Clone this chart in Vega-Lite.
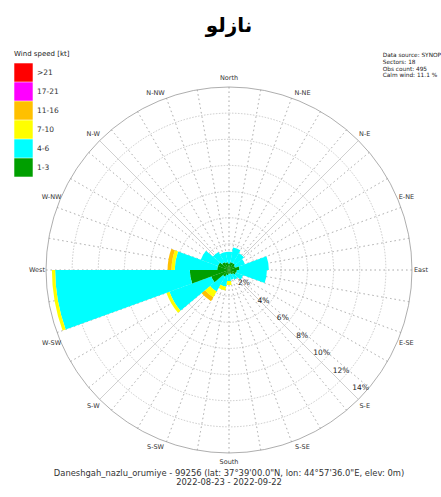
{
  "$schema": "https://vega.github.io/schema/vega-lite/v6.json",
  "width": 400,
  "height": 400,
  "autosize": {"type": "none"},
  "padding": {"left": 29, "top": 70, "right": 12, "bottom": 27},
  "background": "white",
  "title": {"text": "نازلو", "font": "DejaVu Sans", "fontSize": 20, "fontWeight": "bold", "color": "#000000", "anchor": "middle", "offset": 14},
  "config": {"view": {"stroke": null}, "font": "DejaVu Sans"},
  "datasets": {
    "wind": [
      {"dir": 0, "from": -10, "to": 10, "speed": "1-3", "rank": 1, "pct": 0.5},
      {"dir": 0, "from": -10, "to": 10, "speed": "4-6", "rank": 2, "pct": 0.9},
      {"dir": 20, "from": 10, "to": 30, "speed": "1-3", "rank": 1, "pct": 0.6},
      {"dir": 20, "from": 10, "to": 30, "speed": "4-6", "rank": 2, "pct": 1.15},
      {"dir": 40, "from": 30, "to": 50, "speed": "1-3", "rank": 1, "pct": 0.6},
      {"dir": 40, "from": 30, "to": 50, "speed": "4-6", "rank": 2, "pct": 0.9},
      {"dir": 60, "from": 50, "to": 70, "speed": "1-3", "rank": 1, "pct": 0.5},
      {"dir": 60, "from": 50, "to": 70, "speed": "4-6", "rank": 2, "pct": 0.8},
      {"dir": 80, "from": 70, "to": 90, "speed": "1-3", "rank": 1, "pct": 0.8},
      {"dir": 80, "from": 70, "to": 90, "speed": "4-6", "rank": 2, "pct": 2.25},
      {"dir": 100, "from": 90, "to": 110, "speed": "1-3", "rank": 1, "pct": 0.6},
      {"dir": 100, "from": 90, "to": 110, "speed": "4-6", "rank": 2, "pct": 2.3},
      {"dir": 120, "from": 110, "to": 130, "speed": "1-3", "rank": 1, "pct": 0.55},
      {"dir": 120, "from": 110, "to": 130, "speed": "4-6", "rank": 2, "pct": 0.6},
      {"dir": 140, "from": 130, "to": 150, "speed": "1-3", "rank": 1, "pct": 0.4},
      {"dir": 140, "from": 130, "to": 150, "speed": "4-6", "rank": 2, "pct": 0.45},
      {"dir": 160, "from": 150, "to": 170, "speed": "1-3", "rank": 1, "pct": 0.3},
      {"dir": 160, "from": 150, "to": 170, "speed": "4-6", "rank": 2, "pct": 0.45},
      {"dir": 180, "from": 170, "to": 190, "speed": "1-3", "rank": 1, "pct": 0.3},
      {"dir": 180, "from": 170, "to": 190, "speed": "4-6", "rank": 2, "pct": 0.55},
      {"dir": 180, "from": 170, "to": 190, "speed": "7-10", "rank": 3, "pct": 0.3},
      {"dir": 200, "from": 190, "to": 210, "speed": "1-3", "rank": 1, "pct": 0.4},
      {"dir": 200, "from": 190, "to": 210, "speed": "4-6", "rank": 2, "pct": 0.9},
      {"dir": 200, "from": 190, "to": 210, "speed": "7-10", "rank": 3, "pct": 0.3},
      {"dir": 220, "from": 210, "to": 230, "speed": "1-3", "rank": 1, "pct": 0.6},
      {"dir": 220, "from": 210, "to": 230, "speed": "4-6", "rank": 2, "pct": 1.3},
      {"dir": 220, "from": 210, "to": 230, "speed": "7-10", "rank": 3, "pct": 0.5},
      {"dir": 220, "from": 210, "to": 230, "speed": "11-16", "rank": 4, "pct": 0.35},
      {"dir": 240, "from": 230, "to": 250, "speed": "1-3", "rank": 1, "pct": 1.45},
      {"dir": 240, "from": 230, "to": 250, "speed": "4-6", "rank": 2, "pct": 3.4},
      {"dir": 240, "from": 230, "to": 250, "speed": "7-10", "rank": 3, "pct": 0.25},
      {"dir": 260, "from": 250, "to": 270, "speed": "1-3", "rank": 1, "pct": 3.0},
      {"dir": 260, "from": 250, "to": 270, "speed": "4-6", "rank": 2, "pct": 10.3},
      {"dir": 260, "from": 250, "to": 270, "speed": "7-10", "rank": 3, "pct": 0.25},
      {"dir": 280, "from": 270, "to": 290, "speed": "1-3", "rank": 1, "pct": 0.9},
      {"dir": 280, "from": 270, "to": 290, "speed": "4-6", "rank": 2, "pct": 3.25},
      {"dir": 280, "from": 270, "to": 290, "speed": "7-10", "rank": 3, "pct": 0.25},
      {"dir": 280, "from": 270, "to": 290, "speed": "11-16", "rank": 4, "pct": 0.3},
      {"dir": 300, "from": 290, "to": 310, "speed": "1-3", "rank": 1, "pct": 0.9},
      {"dir": 300, "from": 290, "to": 310, "speed": "4-6", "rank": 2, "pct": 1.4},
      {"dir": 320, "from": 310, "to": 330, "speed": "1-3", "rank": 1, "pct": 0.7},
      {"dir": 320, "from": 310, "to": 330, "speed": "4-6", "rank": 2, "pct": 0.9},
      {"dir": 340, "from": 330, "to": 350, "speed": "1-3", "rank": 1, "pct": 0.6},
      {"dir": 340, "from": 330, "to": 350, "speed": "4-6", "rank": 2, "pct": 0.8}
    ],
    "rings": [{"r": 2}, {"r": 4}, {"r": 6}, {"r": 8}, {"r": 10}, {"r": 12}],
    "ringLabels": [
      {"r": 2, "t": "2%"}, {"r": 4, "t": "4%"}, {"r": 6, "t": "6%"}, {"r": 8, "t": "8%"},
      {"r": 10, "t": "10%"}, {"r": 12, "t": "12%"}, {"r": 14, "t": "14%"}
    ],
    "spokes": [
      {"a": 0}, {"a": 10}, {"a": 20}, {"a": 30}, {"a": 40}, {"a": 50}, {"a": 60}, {"a": 70}, {"a": 80},
      {"a": 90}, {"a": 100}, {"a": 110}, {"a": 120}, {"a": 130}, {"a": 140}, {"a": 150}, {"a": 160}, {"a": 170},
      {"a": 180}, {"a": 190}, {"a": 200}, {"a": 210}, {"a": 220}, {"a": 230}, {"a": 240}, {"a": 250}, {"a": 260},
      {"a": 270}, {"a": 280}, {"a": 290}, {"a": 300}, {"a": 310}, {"a": 320}, {"a": 330}, {"a": 340}, {"a": 350}
    ],
    "diagonals": [{"a": 45}, {"a": 135}, {"a": 225}, {"a": 315}],
    "directions": [
      {"name": "North", "deg": 0}, {"name": "N-NE", "deg": 22.5}, {"name": "N-E", "deg": 45}, {"name": "E-NE", "deg": 67.5},
      {"name": "East", "deg": 90}, {"name": "E-SE", "deg": 112.5}, {"name": "S-E", "deg": 135}, {"name": "S-SE", "deg": 157.5},
      {"name": "South", "deg": 180}, {"name": "S-SW", "deg": 202.5}, {"name": "S-W", "deg": 225}, {"name": "W-SW", "deg": 247.5},
      {"name": "West", "deg": 270}, {"name": "W-NW", "deg": 292.5}, {"name": "N-W", "deg": 315}, {"name": "N-NW", "deg": 337.5}
    ]
  },
  "layer": [
    {
      "data": {"name": "rings"},
      "mark": {"type": "arc", "filled": false, "stroke": "#b4b4b4", "strokeWidth": 0.7, "strokeDash": [1.5, 1.5], "theta": 0, "theta2": 6.2832},
      "encoding": {
        "radius": {"field": "r", "type": "quantitative", "stack": null, "scale": {"type": "linear", "domain": [0, 14], "range": [0, 183], "nice": false, "zero": true}}
      }
    },
    {
      "data": {"name": "spokes"},
      "mark": {"type": "arc", "filled": false, "stroke": "#b4b4b4", "strokeWidth": 0.7, "strokeDash": [1.5, 3]},
      "encoding": {
        "theta": {"field": "a", "type": "quantitative", "stack": null, "scale": {"type": "linear", "domain": [0, 360], "range": [0, 6.283185307179586], "nice": false, "zero": true}},
        "theta2": {"field": "a"},
        "radius": {"datum": 14, "type": "quantitative"}
      }
    },
    {
      "data": {"name": "diagonals"},
      "mark": {"type": "arc", "filled": false, "stroke": "#bdbdbd", "strokeWidth": 0.45},
      "encoding": {
        "theta": {"field": "a", "type": "quantitative", "stack": null},
        "theta2": {"field": "a"},
        "radius": {"datum": 14, "type": "quantitative"}
      }
    },
    {
      "data": {"values": [{"r": 14}]},
      "mark": {"type": "arc", "filled": false, "stroke": "#999999", "strokeWidth": 0.8, "theta": 0, "theta2": 6.2832},
      "encoding": {
        "radius": {"field": "r", "type": "quantitative", "stack": null}
      }
    },
    {
      "data": {"name": "wind"},
      "mark": {"type": "arc"},
      "encoding": {
        "theta": {"field": "from", "type": "quantitative", "stack": null},
        "theta2": {"field": "to"},
        "radius": {"field": "pct", "type": "quantitative", "stack": true},
        "order": {"field": "rank", "type": "quantitative", "sort": "ascending"},
        "color": {
          "field": "speed", "type": "nominal",
          "scale": {"domain": [">21", "17-21", "11-16", "7-10", "4-6", "1-3"], "range": ["#ff0000", "#ff00ff", "#ffc000", "#ffff00", "#00ffff", "#009f00"]},
          "legend": {
            "title": "Wind speed [kt]", "orient": "none", "legendX": -15, "legendY": -20, "padding": 0,
            "symbolType": "square", "symbolSize": 340, "symbolStrokeWidth": 0, "symbolOpacity": 1, "rowPadding": 0,
            "labelFont": "DejaVu Sans", "labelFontSize": 7.5, "labelColor": "#333333", "labelOffset": 4,
            "titleFont": "DejaVu Sans", "titleFontSize": 7, "titleFontWeight": "normal", "titleColor": "#222222", "titlePadding": 6
          }
        }
      }
    },
    {
      "data": {"name": "ringLabels"},
      "mark": {"type": "text", "fontSize": 7.5, "color": "#222222", "radiusOffset": -6, "align": "center", "baseline": "middle"},
      "encoding": {
        "theta": {"datum": 132, "type": "quantitative"},
        "radius": {"field": "r", "type": "quantitative", "stack": null},
        "text": {"field": "t"}
      }
    },
    {
      "data": {"name": "directions"},
      "mark": {"type": "text", "fontSize": 6.5, "color": "#333333", "radiusOffset": 9, "align": "center", "baseline": "middle"},
      "encoding": {
        "theta": {"field": "deg", "type": "quantitative", "stack": null},
        "radius": {"datum": 14, "type": "quantitative"},
        "text": {"field": "name"}
      }
    },
    {
      "data": {"values": [{}]},
      "mark": {"type": "text", "fontSize": 5.8, "color": "#222222", "align": "left", "baseline": "top", "lineHeight": 6.8,
        "text": ["Data source: SYNOP", "Sectors: 18", "Obs count: 495", "Calm wind: 11.1 %"]},
      "encoding": {
        "theta": {"datum": 35.2, "type": "quantitative"},
        "radius": {"datum": 20.4, "type": "quantitative"}
      }
    },
    {
      "data": {"values": [{}]},
      "mark": {"type": "text", "fontSize": 8.4, "color": "#333333", "align": "center", "baseline": "top", "lineHeight": 9.5,
        "text": ["Daneshgah_nazlu_orumiye - 99256 (lat: 37°39'00.0\"N, lon: 44°57'36.0\"E, elev: 0m)", "2022-08-23 - 2022-09-22"]},
      "encoding": {
        "theta": {"datum": 180, "type": "quantitative"},
        "radius": {"datum": 15.2, "type": "quantitative"}
      }
    }
  ]
}
